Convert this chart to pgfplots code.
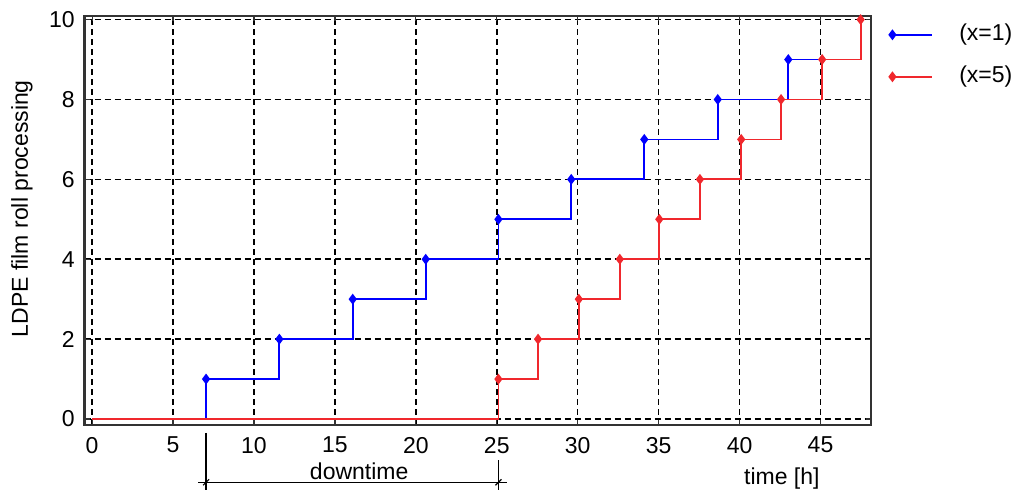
\documentclass[border=0pt]{standalone}
\usepackage{fontspec}
\setmainfont{Liberation Sans}
\usepackage{pgfplots}
\pgfplotsset{compat=1.18}
\definecolor{myblue}{RGB}{0,0,255}
\definecolor{myred}{RGB}{240,40,45}
\begin{document}
\fontsize{11.5}{13.8}\selectfont
\begin{tikzpicture}
\begin{axis}[
  scale only axis, width=393.1pt, height=204.5pt,
  xmin=-0.47, xmax=48.1, ymin=-0.15, ymax=10.09,
  xtick={0,5,...,45}, ytick={0,2,...,10},
  grid=major,
  major grid style={black, line width=0.75pt, dash pattern=on 3pt off 2pt},
  axis line style={black!80, line width=1.1pt},
  tick style={black!80, line width=0.6pt},
  major tick length=2.5pt,
  tick align=inside,
  /pgf/number format/assume math mode=true,
  xticklabel style={yshift=-2pt},
  yticklabel style={xshift=-0.9pt},
  xlabel={time [h]},
  ylabel={LDPE film roll processing},
  xlabel style={at={(rel axis cs:0.887,-0.1467)}, anchor=base, inner sep=0pt},
  ylabel style={at={(rel axis cs:-0.0655,0.529)}, anchor=south, inner sep=0pt},
  clip=false,
  legend cell align=left,
  legend style={draw=none, fill=none, inner sep=0pt, at={(rel axis cs:1.0233,0.9026)}, anchor=west, row sep=10pt, column sep=13pt, nodes={inner sep=0pt, text height=8.5pt, text depth=2.5pt}},
  legend image code/.code={\draw[#1,mark indices={1}] plot coordinates {(0pt,0pt) (20pt,0pt)};},
]
\addplot[myblue, line width=0.9pt, const plot, mark=diamond*, mark size=2pt, mark indices={2,3,4,5,6,7,8,9,10}] coordinates {(0,0)(7.04,1)(11.57,2)(16.1,3)(20.61,4)(25.1,5)(29.6,6)(34.11,7)(38.65,8)(43.01,9)(45.07,9)};
\addlegendentry{(x=1)}
\addplot[myred, line width=0.9pt, const plot, mark=diamond*, mark size=2pt, mark indices={2,3,4,5,6,7,8,9,10,11}] coordinates {(0,0)(25.1,1)(27.55,2)(30.07,3)(32.6,4)(35.04,5)(37.55,6)(40.1,7)(42.56,8)(45.1,9)(47.48,10)};
\addlegendentry{(x=5)}
\draw[black, line width=0.6pt] (axis cs:7.04,-0.35) -- (axis cs:7.04,-1.78);
\draw[black, line width=0.6pt] (axis cs:25.1,-1.03) -- (axis cs:25.1,-1.78);
\draw[black, line width=0.6pt] (axis cs:6.55,-1.585) -- (axis cs:25.63,-1.585);
\draw[black, line width=0.6pt] (axis cs:7.04,-1.585) ++(-1.5pt,-1.5pt) -- ++(3pt,3pt);
\draw[black, line width=0.6pt] (axis cs:25.1,-1.585) ++(-1.5pt,-1.5pt) -- ++(3pt,3pt);
\node[anchor=base, inner sep=0pt] at (axis cs:16.5,-1.527) {downtime};
\end{axis}
\pgfresetboundingbox
\path[use as bounding box] ([shift={(-42.25pt,-32.5pt)}]current axis.south west) rectangle ([shift={(71.15pt,8pt)}]current axis.north east);
\end{tikzpicture}
\end{document}
